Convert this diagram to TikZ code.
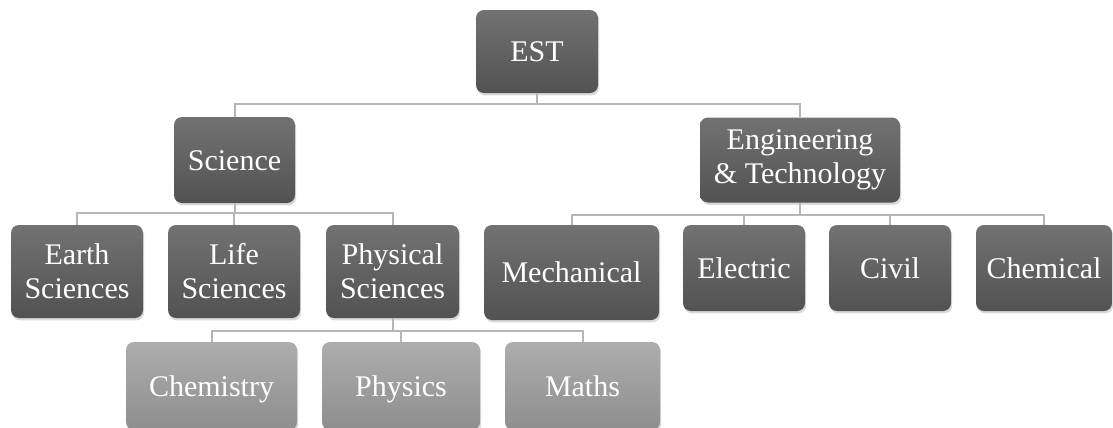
\documentclass[tikz,border=0pt]{standalone}
\usepackage{fontspec}
\setmainfont{Liberation Serif}
\usetikzlibrary{shadows}
\definecolor{darktop}{HTML}{727272}
\definecolor{darkbot}{HTML}{525252}
\definecolor{lighttop}{HTML}{ADADAD}
\definecolor{lightbot}{HTML}{8E8E8E}
\definecolor{linkgray}{HTML}{B6B6B6}
\tikzset{
	box/.style={
		rectangle,
		rounded corners=4pt,
		text=white,
		align=center,
		inner sep=0pt,
		font=\fontsize{15}{17}\selectfont,
		drop shadow={shadow xshift=0.6pt,shadow yshift=-1.2pt,opacity=0.3},
	},
	dark/.style={
		box,
		top color=darktop,
		bottom color=darkbot,
	},
	light/.style={
		box,
		top color=lighttop,
		bottom color=lightbot,
	},
	oneline/.style={
		text height=11.5pt,
		text depth=1.5pt,
	},
	wh/.style 2 args={
		minimum width=#1*0.5pt,
		minimum height=#2*0.5pt,
	},
	link/.style={
		draw=linkgray,
		line width=1pt,
	}
}
\begin{document}
\begin{tikzpicture}[x=0.5pt,y=-0.5pt]
	\useasboundingbox (0,0) rectangle (1113,428);
	% root
	\node [dark,oneline,wh={122}{83}] (est) at (537,51.5) {EST};
	% second level
	\node [dark,oneline,wh={121}{86}] (sci) at (234.5,160) {Science};
	\node [dark,wh={200}{85}] (eng) at (800,160) {Engineering\\\& Technology};
	% sciences
	\node [dark,wh={132}{93}] (earth) at (77,271.5) {Earth\\Sciences};
	\node [dark,wh={132}{93}] (life) at (234,271.5) {Life\\Sciences};
	\node [dark,wh={133}{93}] (phys) at (392.5,271.5) {Physical\\Sciences};
	% engineering
	\node [dark,oneline,wh={175}{95}] (mech) at (571.5,272.5) {Mechanical};
	\node [dark,oneline,wh={122}{86}] (elec) at (744,268) {Electric};
	\node [dark,oneline,wh={122}{86}] (civil) at (890,268) {Civil};
	\node [dark,oneline,wh={136}{86}] (chem) at (1044,268) {Chemical};
	% physical sciences
	\node [light,oneline,wh={171}{88}] (chemy) at (211.5,386) {Chemistry};
	\node [light,oneline,wh={158}{88}] (physics) at (401,386) {Physics};
	\node [light,oneline,wh={155}{88}] (maths) at (582.5,386) {Maths};

	\foreach \c in {sci,eng}
		\draw[link] (est.south) -- ++(0,11) -| (\c.north);
	\foreach \c in {earth,life,phys}
		\draw[link] (sci.south) -- ++(0,10) -| (\c.north);
	\foreach \c in {mech,elec,civil,chem}
		\draw[link] (eng.south) -- ++(0,12) -| (\c.north);
	\foreach \c in {chemy,physics,maths}
		\draw[link] (phys.south) -- ++(0,13) -| (\c.north);
\end{tikzpicture}
\end{document}
